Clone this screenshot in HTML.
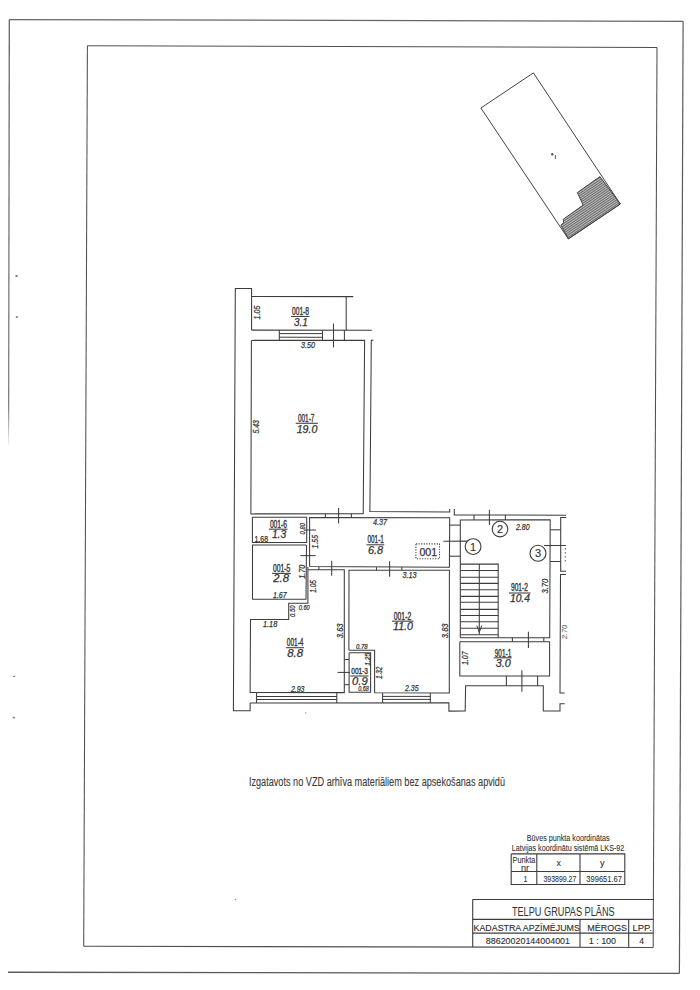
<!DOCTYPE html>
<html><head><meta charset="utf-8"><style>
html,body{margin:0;padding:0;background:#fff;}
svg{display:block;}
text{font-family:"Liberation Sans",sans-serif;}
</style></head><body>
<svg width="700" height="990" viewBox="0 0 700 990">
<defs>
<linearGradient id="fadeL" x1="0" y1="0" x2="0" y2="1" gradientUnits="objectBoundingBox"><stop offset="0" stop-color="#555"/><stop offset="0.9" stop-color="#777"/><stop offset="1" stop-color="#fff"/></linearGradient>
<pattern id="hatch" width="2" height="2" patternUnits="userSpaceOnUse" patternTransform="rotate(-34)"><rect width="2" height="2" fill="#bdbdbd"/><rect width="2" height="1" fill="#6a6a6a"/></pattern>
</defs>
<rect width="700" height="990" fill="#fff"/>
<path d="M9.3,19.6 L683.1,21.3" fill="none" stroke="#666" stroke-width="1.2"/>
<path d="M683.1,21.3 L679.4,973.4" fill="none" stroke="#5a5a5a" stroke-width="1.2"/>
<path d="M8.0,972.2 L679.4,973.4" fill="none" stroke="#5a5a5a" stroke-width="1.4"/>
<path d="M9.3,19.6 L8.6,448" stroke="url(#fadeL)" stroke-width="1.2" fill="none"/>
<path d="M87.4,45.7 L657.0,47.4" fill="none" stroke="#505050" stroke-width="1.05"/>
<path d="M657.0,47.4 L653.2,947.4" fill="none" stroke="#505050" stroke-width="1.05"/>
<path d="M83.7,946.3 L653.2,947.4" fill="none" stroke="#505050" stroke-width="1.05"/>
<path d="M87.4,45.7 L83.7,946.3" fill="none" stroke="#505050" stroke-width="1.05"/>
<rect x="15.5" y="275" width="2" height="2" fill="#777"/>
<rect x="15.8" y="316.2" width="2" height="1.6" fill="#777"/>
<rect x="13.2" y="675.8" width="2" height="1.2" fill="#777"/>
<rect x="12.8" y="716.8" width="2" height="1.6" fill="#777"/>
<circle cx="305.7" cy="712.9" r="0.7" fill="#888"/>
<circle cx="235.4" cy="899.5" r="0.7" fill="#888"/>
<polygon points="599.9,176.6 620.3,204 568.3,238.9 560.9,225.1 563.7,222.6 563.1,219.4 583.1,205.1 577.4,192.6" fill="url(#hatch)" stroke="#444" stroke-width="1"/>
<path d="M480.9,108.0 L533.4,72.9 L620.3,204.0 L568.3,238.9 L480.9,108.0" fill="none" stroke="#444" stroke-width="1.0"/>
<circle cx="552.3" cy="154.3" r="1.2" fill="#555"/>
<path d="M555.4,155.0 L555.4,159.0" fill="none" stroke="#555" stroke-width="0.9"/>
<path d="M251.6,330.1 L251.6,288.4 L235.3,288.4 L233.4,710.8 L250.1,710.8 L250.1,703.0" fill="none" stroke="#3c3c3c" stroke-width="1.05"/>
<path d="M251.6,296.4 L353.3,296.6" fill="none" stroke="#3c3c3c" stroke-width="1.05"/>
<path d="M346.2,296.6 L346.2,330.3" fill="none" stroke="#3c3c3c" stroke-width="1.05"/>
<path d="M251.6,330.1 L371.8,330.3" fill="none" stroke="#3c3c3c" stroke-width="1.05"/>
<path d="M279.3,330.1 L279.3,340.4" fill="none" stroke="#3c3c3c" stroke-width="1.05"/>
<path d="M322.5,330.3 L322.5,340.3" fill="none" stroke="#3c3c3c" stroke-width="1.05"/>
<path d="M279.3,333.6 L322.5,333.6" fill="none" stroke="#3c3c3c" stroke-width="1.0"/>
<path d="M279.3,337.2 L322.5,337.3" fill="none" stroke="#3c3c3c" stroke-width="1.0"/>
<path d="M344.4,330.3 L344.4,340.3" fill="none" stroke="#3c3c3c" stroke-width="1.05"/>
<path d="M333.5,323.6 L333.5,347.4" fill="none" stroke="#3c3c3c" stroke-width="1.05"/>
<path d="M251.4,340.4 L364.6,340.3 L363.2,513.8 L250.9,513.9 L251.4,340.4" fill="none" stroke="#3c3c3c" stroke-width="1.05"/>
<path d="M373.5,340.2 L371.3,340.2 L369.9,511.6 L449.7,512.0 L449.7,509.1" fill="none" stroke="#3c3c3c" stroke-width="1.05"/>
<path d="M454.3,509.1 L454.3,514.9 L566.0,515.2" fill="none" stroke="#3c3c3c" stroke-width="1.05"/>
<path d="M252.4,517.3 L306.7,517.3 L306.7,542.5 L252.4,542.5 L252.4,517.3" fill="none" stroke="#3c3c3c" stroke-width="1.05"/>
<path d="M306.3,545.0 L252.5,545.0 L252.5,599.3 L306.0,599.3 L306.5,545.0" fill="none" stroke="#3c3c3c" stroke-width="1.05"/>
<path d="M309.6,566.6 L309.6,517.5 L449.7,517.7 L449.4,567.3 L309.6,566.6" fill="none" stroke="#3c3c3c" stroke-width="1.05"/>
<path d="M338.6,508.0 L338.6,523.4" fill="none" stroke="#3c3c3c" stroke-width="1.05"/>
<path d="M325.4,513.9 L325.4,517.5" fill="none" stroke="#3c3c3c" stroke-width="1.05"/>
<path d="M351.4,513.9 L351.4,517.5" fill="none" stroke="#3c3c3c" stroke-width="1.05"/>
<path d="M300.4,555.6 L315.6,555.6" fill="none" stroke="#3c3c3c" stroke-width="1.05"/>
<path d="M304.4,530.0 L315.9,530.0" fill="none" stroke="#3c3c3c" stroke-width="1.05"/>
<path d="M331.7,560.8 L331.7,575.7" fill="none" stroke="#3c3c3c" stroke-width="1.05"/>
<path d="M389.6,561.3 L389.6,576.7" fill="none" stroke="#3c3c3c" stroke-width="1.05"/>
<path d="M443.4,541.2 L466.9,541.1" fill="none" stroke="#3c3c3c" stroke-width="1.05"/>
<path d="M307.9,567.0 L307.9,603.2 L288.7,603.2 L288.7,619.4 L250.5,619.4 L250.1,692.5 L344.3,692.6 L344.3,569.8 L307.9,569.7" fill="none" stroke="#3c3c3c" stroke-width="1.05"/>
<path d="M318.9,566.7 L318.9,569.8" fill="none" stroke="#3c3c3c" stroke-width="1.05"/>
<path d="M348.9,650.3 L349.0,570.3 L449.4,570.3 L449.3,692.9 L374.6,692.8 L374.6,650.3 L348.9,650.3" fill="none" stroke="#3c3c3c" stroke-width="1.05"/>
<path d="M376.5,567.2 L376.5,570.3" fill="none" stroke="#3c3c3c" stroke-width="1.05"/>
<path d="M401.8,567.2 L401.8,570.3" fill="none" stroke="#3c3c3c" stroke-width="1.05"/>
<path d="M349.1,652.7 L370.6,652.7 L370.6,692.3 L349.1,692.3 L349.1,652.7" fill="none" stroke="#3c3c3c" stroke-width="1.05"/>
<path d="M344.3,659.5 L348.9,659.5" fill="none" stroke="#3c3c3c" stroke-width="1.05"/>
<path d="M344.3,684.7 L348.9,684.7" fill="none" stroke="#3c3c3c" stroke-width="1.05"/>
<path d="M337.6,672.4 L350.0,672.4" fill="none" stroke="#3c3c3c" stroke-width="1.05"/>
<path d="M256.6,692.8 L256.6,703.0" fill="none" stroke="#3c3c3c" stroke-width="1.05"/>
<path d="M336.8,692.8 L336.8,703.0" fill="none" stroke="#3c3c3c" stroke-width="1.05"/>
<path d="M256.6,696.5 L336.8,696.5" fill="none" stroke="#3c3c3c" stroke-width="1.0"/>
<path d="M256.6,699.5 L336.8,699.5" fill="none" stroke="#3c3c3c" stroke-width="1.0"/>
<path d="M250.1,703.0 L448.9,702.9 L448.9,711.1 L465.2,711.0 L465.6,685.7 L543.3,685.7 L543.3,711.0 L560.0,711.0 L560.0,703.7 L564.7,703.7" fill="none" stroke="#3c3c3c" stroke-width="1.05"/>
<path d="M382.6,693.0 L382.6,702.9" fill="none" stroke="#3c3c3c" stroke-width="1.05"/>
<path d="M430.3,693.0 L430.3,702.9" fill="none" stroke="#3c3c3c" stroke-width="1.05"/>
<path d="M382.6,696.4 L430.3,696.4" fill="none" stroke="#3c3c3c" stroke-width="1.0"/>
<path d="M382.6,699.4 L430.3,699.4" fill="none" stroke="#3c3c3c" stroke-width="1.0"/>
<path d="M460.3,637.7 L460.3,520.0 L550.2,519.8 L549.7,637.7 L460.3,637.7" fill="none" stroke="#3c3c3c" stroke-width="1.05"/>
<path d="M474.0,514.9 L474.0,520.0" fill="none" stroke="#3c3c3c" stroke-width="1.05"/>
<path d="M505.4,515.1 L505.4,519.9" fill="none" stroke="#3c3c3c" stroke-width="1.05"/>
<path d="M489.4,509.7 L489.4,525.1" fill="none" stroke="#3c3c3c" stroke-width="1.05"/>
<path d="M449.7,525.1 L460.3,525.1" fill="none" stroke="#3c3c3c" stroke-width="1.05"/>
<path d="M449.7,556.2 L460.3,556.2" fill="none" stroke="#3c3c3c" stroke-width="1.05"/>
<path d="M550.2,529.8 L560.7,529.8" fill="none" stroke="#3c3c3c" stroke-width="1.05"/>
<path d="M550.2,561.5 L560.7,561.5" fill="none" stroke="#3c3c3c" stroke-width="1.05"/>
<path d="M544.0,545.5 L566.0,545.5" fill="none" stroke="#3c3c3c" stroke-width="1.05"/>
<path d="M566.2,517.5 L560.7,517.5 L560.7,571.2 L566.0,571.2" fill="none" stroke="#3c3c3c" stroke-width="1.05"/>
<path d="M566.0,574.5 L560.5,574.5 L560.0,693.0 L564.7,693.0" fill="none" stroke="#3c3c3c" stroke-width="1.05"/>
<path d="M565.3,548 L565.3,564" stroke="#555" stroke-width="1" stroke-dasharray="1.5,2.5" fill="none"/>
<path d="M512.4,637.7 L512.4,641.7" fill="none" stroke="#3c3c3c" stroke-width="1.05"/>
<path d="M543.8,637.7 L543.8,641.7" fill="none" stroke="#3c3c3c" stroke-width="1.05"/>
<path d="M528.4,631.7 L528.4,648.0" fill="none" stroke="#3c3c3c" stroke-width="1.05"/>
<path d="M460.5,564.1 L498.2,564.1 L498.2,637.7" fill="none" stroke="#3c3c3c" stroke-width="1.05"/>
<path d="M479.3,564.1 L479.3,634.5" fill="none" stroke="#3c3c3c" stroke-width="1.05"/>
<path d="M460.5,570.5 L498.2,570.5" fill="none" stroke="#3c3c3c" stroke-width="1.1"/>
<path d="M460.5,577.3 L498.2,577.3" fill="none" stroke="#3c3c3c" stroke-width="1.1"/>
<path d="M460.5,583.4 L498.2,583.4" fill="none" stroke="#3c3c3c" stroke-width="1.1"/>
<path d="M460.5,589.7 L498.2,589.7" fill="none" stroke="#3c3c3c" stroke-width="1.1"/>
<path d="M460.5,596.4 L498.2,596.4" fill="none" stroke="#3c3c3c" stroke-width="1.1"/>
<path d="M460.5,602.3 L498.2,602.3" fill="none" stroke="#3c3c3c" stroke-width="1.1"/>
<path d="M460.5,609.4 L498.2,609.4" fill="none" stroke="#3c3c3c" stroke-width="1.1"/>
<path d="M460.5,615.5 L498.2,615.5" fill="none" stroke="#3c3c3c" stroke-width="1.1"/>
<path d="M460.5,621.8 L498.2,621.8" fill="none" stroke="#3c3c3c" stroke-width="1.1"/>
<path d="M460.5,628.2 L498.2,628.2" fill="none" stroke="#3c3c3c" stroke-width="1.1"/>
<path d="M460.5,634.8 L498.2,634.8" fill="none" stroke="#3c3c3c" stroke-width="1.1"/>
<path d="M476.8,625.5 L479.3,632.3 L481.8,625.5" fill="none" stroke="#3c3c3c" stroke-width="1.0"/>
<path d="M459.8,641.7 L549.6,641.7 L549.6,675.9 L459.8,675.9 L459.8,641.7" fill="none" stroke="#3c3c3c" stroke-width="1.05"/>
<path d="M506.4,675.9 L506.4,685.7" fill="none" stroke="#3c3c3c" stroke-width="1.05"/>
<path d="M537.6,675.9 L537.6,685.7" fill="none" stroke="#3c3c3c" stroke-width="1.05"/>
<path d="M521.9,670.3 L521.9,691.7" fill="none" stroke="#3c3c3c" stroke-width="1.05"/>
<circle cx="473.1" cy="546.6" r="7.9" fill="white" stroke="#3c3c3c" stroke-width="1.1"/>
<text x="473.1" y="550.5" font-size="11" text-anchor="middle" fill="#333" stroke="#333" stroke-width="0.15">1</text>
<circle cx="500.0" cy="529.1" r="7.8" fill="white" stroke="#3c3c3c" stroke-width="1.1"/>
<text x="500.0" y="533.0" font-size="11" text-anchor="middle" fill="#333" stroke="#333" stroke-width="0.15">2</text>
<circle cx="538.0" cy="553.2" r="8.0" fill="white" stroke="#3c3c3c" stroke-width="1.1"/>
<text x="538.0" y="557.1" font-size="11" text-anchor="middle" fill="#333" stroke="#333" stroke-width="0.15">3</text>
<rect x="415.9" y="543.9" width="23.6" height="14.8" fill="none" stroke="#444" stroke-width="1.1" stroke-dasharray="1.2,1.4"/>
<text x="292.0" y="314.8" font-size="10" font-style="normal" font-weight="normal" fill="#3a3a3a" stroke="#3a3a3a" stroke-width="0.4" textLength="17.0" lengthAdjust="spacingAndGlyphs">001-8</text>
<path d="M291.0,316.5 L309.5,316.5" fill="none" stroke="#444" stroke-width="1.1"/>
<text x="293.9" y="325.5" font-size="10" font-style="italic" font-weight="normal" fill="#333" stroke="#333" stroke-width="0.25" textLength="13.8" lengthAdjust="spacingAndGlyphs">3.1</text>
<text x="298.0" y="422.1" font-size="10" font-style="normal" font-weight="normal" fill="#3a3a3a" stroke="#3a3a3a" stroke-width="0.4" textLength="16.3" lengthAdjust="spacingAndGlyphs">001-7</text>
<path d="M295.7,423.3 L317.8,423.3" fill="none" stroke="#444" stroke-width="1.1"/>
<text x="296.7" y="432.7" font-size="10" font-style="italic" font-weight="normal" fill="#333" stroke="#333" stroke-width="0.25" textLength="20.6" lengthAdjust="spacingAndGlyphs">19.0</text>
<text x="269.9" y="527.6" font-size="10" font-style="normal" font-weight="normal" fill="#3a3a3a" stroke="#3a3a3a" stroke-width="0.4" textLength="17.1" lengthAdjust="spacingAndGlyphs">001-6</text>
<path d="M268.9,529.2 L287.5,529.2" fill="none" stroke="#444" stroke-width="1.1"/>
<text x="271.9" y="538.4" font-size="10" font-style="italic" font-weight="normal" fill="#333" stroke="#333" stroke-width="0.25" textLength="14.2" lengthAdjust="spacingAndGlyphs">1.3</text>
<text x="273.0" y="571.8" font-size="10" font-style="normal" font-weight="normal" fill="#3a3a3a" stroke="#3a3a3a" stroke-width="0.4" textLength="17.3" lengthAdjust="spacingAndGlyphs">001-5</text>
<path d="M272.0,573.4 L290.8,573.4" fill="none" stroke="#444" stroke-width="1.1"/>
<text x="273.3" y="581.7" font-size="10" font-style="italic" font-weight="normal" fill="#333" stroke="#333" stroke-width="0.25" textLength="15.7" lengthAdjust="spacingAndGlyphs">2.8</text>
<text x="367.5" y="543.0" font-size="10" font-style="normal" font-weight="normal" fill="#3a3a3a" stroke="#3a3a3a" stroke-width="0.4" textLength="16.3" lengthAdjust="spacingAndGlyphs">001-1</text>
<path d="M366.5,544.8 L384.3,544.8" fill="none" stroke="#444" stroke-width="1.1"/>
<text x="368.0" y="553.6" font-size="10" font-style="italic" font-weight="normal" fill="#333" stroke="#333" stroke-width="0.25" textLength="15.1" lengthAdjust="spacingAndGlyphs">6.8</text>
<text x="286.8" y="645.8" font-size="10" font-style="normal" font-weight="normal" fill="#3a3a3a" stroke="#3a3a3a" stroke-width="0.4" textLength="16.6" lengthAdjust="spacingAndGlyphs">001-4</text>
<path d="M285.8,647.7 L303.9,647.7" fill="none" stroke="#444" stroke-width="1.1"/>
<text x="287.2" y="656.6" font-size="10" font-style="italic" font-weight="normal" fill="#333" stroke="#333" stroke-width="0.25" textLength="15.8" lengthAdjust="spacingAndGlyphs">8.8</text>
<text x="393.8" y="619.5" font-size="10" font-style="normal" font-weight="normal" fill="#3a3a3a" stroke="#3a3a3a" stroke-width="0.4" textLength="17.4" lengthAdjust="spacingAndGlyphs">001-2</text>
<path d="M392.0,621.2 L413.5,621.2" fill="none" stroke="#444" stroke-width="1.1"/>
<text x="393.0" y="630.0" font-size="10" font-style="italic" font-weight="normal" fill="#333" stroke="#333" stroke-width="0.25" textLength="20.0" lengthAdjust="spacingAndGlyphs">11.0</text>
<text x="351.3" y="674.3" font-size="9.2" font-style="normal" font-weight="normal" fill="#3a3a3a" stroke="#3a3a3a" stroke-width="0.4" textLength="16.7" lengthAdjust="spacingAndGlyphs">001-3</text>
<path d="M350.3,676.0 L368.5,676.0" fill="none" stroke="#444" stroke-width="1.1"/>
<text x="352.1" y="684.7" font-size="10" font-style="italic" font-weight="normal" fill="#333" stroke="#333" stroke-width="0.25" textLength="15.5" lengthAdjust="spacingAndGlyphs">0.9</text>
<text x="511.0" y="591.4" font-size="10" font-style="normal" font-weight="normal" fill="#3a3a3a" stroke="#3a3a3a" stroke-width="0.4" textLength="16.9" lengthAdjust="spacingAndGlyphs">901-2</text>
<path d="M508.9,593.0 L530.5,593.0" fill="none" stroke="#444" stroke-width="1.1"/>
<text x="509.9" y="601.7" font-size="10" font-style="italic" font-weight="normal" fill="#333" stroke="#333" stroke-width="0.25" textLength="20.1" lengthAdjust="spacingAndGlyphs">10.4</text>
<text x="494.8" y="656.6" font-size="10" font-style="normal" font-weight="normal" fill="#3a3a3a" stroke="#3a3a3a" stroke-width="0.4" textLength="16.4" lengthAdjust="spacingAndGlyphs">901-1</text>
<path d="M493.8,657.8 L511.7,657.8" fill="none" stroke="#444" stroke-width="1.1"/>
<text x="495.8" y="666.9" font-size="10" font-style="italic" font-weight="normal" fill="#333" stroke="#333" stroke-width="0.25" textLength="14.9" lengthAdjust="spacingAndGlyphs">3.0</text>
<text x="419.4" y="555.5" font-size="10.5" font-style="normal" font-weight="normal" fill="#333" stroke="#333" stroke-width="0.25" textLength="17.7" lengthAdjust="spacingAndGlyphs">001</text>
<text x="301.0" y="348.3" font-size="8.8" font-style="italic" font-weight="normal" fill="#333" stroke="#333" stroke-width="0.25" textLength="14.0" lengthAdjust="spacingAndGlyphs">3.50</text>
<text x="372.9" y="525.0" font-size="8.8" font-style="italic" font-weight="normal" fill="#333" stroke="#333" stroke-width="0.25" textLength="14.1" lengthAdjust="spacingAndGlyphs">4.37</text>
<text x="254.5" y="541.6" font-size="8.8" font-style="normal" font-weight="normal" fill="#333" stroke="#333" stroke-width="0.25" textLength="13.5" lengthAdjust="spacingAndGlyphs">1.68</text>
<text x="273.0" y="598.2" font-size="8.8" font-style="italic" font-weight="normal" fill="#333" stroke="#333" stroke-width="0.25" textLength="13.6" lengthAdjust="spacingAndGlyphs">1.67</text>
<text x="298.7" y="610.0" font-size="7" font-style="italic" font-weight="normal" fill="#333" stroke="#333" stroke-width="0.25" textLength="11.0" lengthAdjust="spacingAndGlyphs">0.60</text>
<text x="263.0" y="627.3" font-size="8.8" font-style="italic" font-weight="normal" fill="#333" stroke="#333" stroke-width="0.25" textLength="14.2" lengthAdjust="spacingAndGlyphs">1.18</text>
<text x="402.4" y="578.0" font-size="8.8" font-style="italic" font-weight="normal" fill="#333" stroke="#333" stroke-width="0.25" textLength="14.2" lengthAdjust="spacingAndGlyphs">3.13</text>
<text x="516.0" y="529.5" font-size="8.8" font-style="italic" font-weight="normal" fill="#333" stroke="#333" stroke-width="0.25" textLength="13.5" lengthAdjust="spacingAndGlyphs">2.80</text>
<text x="290.9" y="691.5" font-size="8.8" font-style="italic" font-weight="normal" fill="#333" stroke="#333" stroke-width="0.25" textLength="13.6" lengthAdjust="spacingAndGlyphs">2.93</text>
<text x="405.0" y="691.4" font-size="8.8" font-style="italic" font-weight="normal" fill="#333" stroke="#333" stroke-width="0.25" textLength="13.6" lengthAdjust="spacingAndGlyphs">2.35</text>
<text x="356.0" y="649.0" font-size="7" font-style="italic" font-weight="normal" fill="#333" stroke="#333" stroke-width="0.25" textLength="11.6" lengthAdjust="spacingAndGlyphs">0.78</text>
<text x="358.3" y="691.4" font-size="7" font-style="italic" font-weight="normal" fill="#333" stroke="#333" stroke-width="0.25" textLength="10.6" lengthAdjust="spacingAndGlyphs">0.68</text>
<text transform="translate(259.6,319.4) rotate(-90)" x="0" y="0" font-size="8.8" font-style="italic" fill="#333" stroke="#333" stroke-width="0.25" textLength="13.7" lengthAdjust="spacingAndGlyphs">1.05</text>
<text transform="translate(259.0,433.6) rotate(-90)" x="0" y="0" font-size="8.8" font-style="italic" fill="#333" stroke="#333" stroke-width="0.25" textLength="13.6" lengthAdjust="spacingAndGlyphs">5.43</text>
<text transform="translate(305.0,534.4) rotate(-90)" x="0" y="0" font-size="7" font-style="italic" fill="#333" stroke="#333" stroke-width="0.25" textLength="11.4" lengthAdjust="spacingAndGlyphs">0.80</text>
<text transform="translate(317.6,548.4) rotate(-90)" x="0" y="0" font-size="8.8" font-style="italic" fill="#333" stroke="#333" stroke-width="0.25" textLength="13.4" lengthAdjust="spacingAndGlyphs">1.55</text>
<text transform="translate(304.7,578.8) rotate(-90)" x="0" y="0" font-size="8.8" font-style="italic" fill="#333" stroke="#333" stroke-width="0.25" textLength="14.0" lengthAdjust="spacingAndGlyphs">1.70</text>
<text transform="translate(315.6,592.7) rotate(-90)" x="0" y="0" font-size="8.8" font-style="italic" fill="#333" stroke="#333" stroke-width="0.25" textLength="12.7" lengthAdjust="spacingAndGlyphs">1.05</text>
<text transform="translate(295.3,616.9) rotate(-90)" x="0" y="0" font-size="7" font-style="italic" fill="#333" stroke="#333" stroke-width="0.25" textLength="11.3" lengthAdjust="spacingAndGlyphs">0.50</text>
<text transform="translate(343.4,638.2) rotate(-90)" x="0" y="0" font-size="8.8" font-style="italic" fill="#333" stroke="#333" stroke-width="0.25" textLength="14.8" lengthAdjust="spacingAndGlyphs">3.63</text>
<text transform="translate(369.7,665.7) rotate(-90)" x="0" y="0" font-size="7" font-style="italic" fill="#333" stroke="#333" stroke-width="0.25" textLength="12.8" lengthAdjust="spacingAndGlyphs">1.25</text>
<text transform="translate(381.7,679.0) rotate(-90)" x="0" y="0" font-size="8.8" font-style="italic" fill="#333" stroke="#333" stroke-width="0.25" textLength="12.4" lengthAdjust="spacingAndGlyphs">1.32</text>
<text transform="translate(447.9,638.2) rotate(-90)" x="0" y="0" font-size="8.8" font-style="italic" fill="#333" stroke="#333" stroke-width="0.25" textLength="14.8" lengthAdjust="spacingAndGlyphs">3.83</text>
<text transform="translate(547.6,593.6) rotate(-90)" x="0" y="0" font-size="8.8" font-style="italic" fill="#333" stroke="#333" stroke-width="0.25" textLength="15.0" lengthAdjust="spacingAndGlyphs">3.70</text>
<text transform="translate(467.9,665.1) rotate(-90)" x="0" y="0" font-size="8.8" font-style="italic" fill="#333" stroke="#333" stroke-width="0.25" textLength="13.7" lengthAdjust="spacingAndGlyphs">1.07</text>
<text transform="translate(566.5,639.0) rotate(-90)" x="0" y="0" font-size="7.5" font-style="italic" fill="#666" stroke="#666" stroke-width="0.1" textLength="14.0" lengthAdjust="spacingAndGlyphs">2.70</text>
<text x="248.9" y="786.0" font-size="12" font-style="normal" font-weight="normal" fill="#3a3a3a" stroke="#3a3a3a" stroke-width="0.1" textLength="256.1" lengthAdjust="spacingAndGlyphs">Izgatavots no VZD arhīva materiāliem bez apsekošanas apvidū</text>
<text x="526.8" y="841.2" font-size="9.5" font-style="normal" font-weight="normal" fill="#333" stroke="#333" stroke-width="0.1" textLength="82.7" lengthAdjust="spacingAndGlyphs">Būves punkta koordinātas</text>
<text x="511.8" y="850.9" font-size="9.5" font-style="normal" font-weight="normal" fill="#333" stroke="#333" stroke-width="0.1" textLength="112.5" lengthAdjust="spacingAndGlyphs">Latvijas koordinātu sistēmā LKS-92</text>
<path d="M511.2,853.9 L624.8,853.9 L624.8,884.5 L511.2,884.5 L511.2,853.9" fill="none" stroke="#3c3c3c" stroke-width="1.1"/>
<path d="M511.2,871.5 L624.8,871.5" fill="none" stroke="#3c3c3c" stroke-width="1.1"/>
<path d="M536.8,853.9 L536.8,884.5" fill="none" stroke="#3c3c3c" stroke-width="1.1"/>
<path d="M580.0,853.9 L580.0,884.5" fill="none" stroke="#3c3c3c" stroke-width="1.1"/>
<text x="512.5" y="862.8" font-size="9" font-style="normal" font-weight="normal" fill="#333" stroke="#333" stroke-width="0.1" textLength="22.9" lengthAdjust="spacingAndGlyphs">Punkta</text>
<text x="521.0" y="870.5" font-size="9" font-style="normal" font-weight="normal" fill="#333" stroke="#333" stroke-width="0.1" textLength="8.1" lengthAdjust="spacingAndGlyphs">nr</text>
<text x="556.4" y="866.4" font-size="9" font-style="normal" font-weight="normal" fill="#333" stroke="#333" stroke-width="0.1" textLength="4.4" lengthAdjust="spacingAndGlyphs">x</text>
<text x="600.0" y="866.4" font-size="9" font-style="normal" font-weight="normal" fill="#333" stroke="#333" stroke-width="0.1" textLength="4.6" lengthAdjust="spacingAndGlyphs">y</text>
<text x="523.5" y="881.9" font-size="9.5" font-style="normal" font-weight="normal" fill="#333" stroke="#333" stroke-width="0.1" textLength="4.0" lengthAdjust="spacingAndGlyphs">1</text>
<text x="543.4" y="881.9" font-size="9.5" font-style="normal" font-weight="normal" fill="#333" stroke="#333" stroke-width="0.1" textLength="33.0" lengthAdjust="spacingAndGlyphs">393899.27</text>
<text x="586.3" y="881.9" font-size="9.5" font-style="normal" font-weight="normal" fill="#333" stroke="#333" stroke-width="0.1" textLength="35.7" lengthAdjust="spacingAndGlyphs">399651.67</text>
<text x="511.9" y="916.4" font-size="12.4" font-style="normal" font-weight="normal" fill="#333" stroke="#333" stroke-width="0.05" textLength="102.8" lengthAdjust="spacingAndGlyphs">TELPU GRUPAS PLĀNS</text>
<text x="473.5" y="931.2" font-size="9.2" font-style="normal" font-weight="normal" fill="#2a2a2a" stroke="#2a2a2a" stroke-width="0.1" textLength="106.4" lengthAdjust="spacingAndGlyphs">KADASTRA APZĪMĒJUMS</text>
<text x="587.3" y="931.2" font-size="9.2" font-style="normal" font-weight="normal" fill="#2a2a2a" stroke="#2a2a2a" stroke-width="0.1" textLength="39.8" lengthAdjust="spacingAndGlyphs">MĒROGS</text>
<text x="632.6" y="931.2" font-size="9.2" font-style="normal" font-weight="normal" fill="#2a2a2a" stroke="#2a2a2a" stroke-width="0.1" textLength="19.2" lengthAdjust="spacingAndGlyphs">LPP.</text>
<text x="485.8" y="944.4" font-size="9.4" font-style="normal" font-weight="normal" fill="#2a2a2a" stroke="#2a2a2a" stroke-width="0.1" textLength="84.2" lengthAdjust="spacingAndGlyphs">88620020144004001</text>
<text x="588.7" y="944.4" font-size="9.4" font-style="normal" font-weight="normal" fill="#2a2a2a" stroke="#2a2a2a" stroke-width="0.1" textLength="27.4" lengthAdjust="spacingAndGlyphs">1 : 100</text>
<text x="639.2" y="944.4" font-size="9.4" font-style="normal" font-weight="normal" fill="#2a2a2a" stroke="#2a2a2a" stroke-width="0.1" textLength="4.8" lengthAdjust="spacingAndGlyphs">4</text>
<path d="M472.7,899.5 L653.7,899.5" fill="none" stroke="#3c3c3c" stroke-width="1.1"/>
<path d="M472.7,899.5 L472.7,946.9" fill="none" stroke="#3c3c3c" stroke-width="1.1"/>
<path d="M472.7,919.4 L653.7,919.4" fill="none" stroke="#3c3c3c" stroke-width="1.1"/>
<path d="M472.7,933.1 L653.7,933.1" fill="none" stroke="#3c3c3c" stroke-width="1.1"/>
<path d="M580.0,919.4 L580.0,946.9" fill="none" stroke="#3c3c3c" stroke-width="1.1"/>
<path d="M628.7,919.4 L628.7,946.9" fill="none" stroke="#3c3c3c" stroke-width="1.1"/>
</svg>
</body></html>
